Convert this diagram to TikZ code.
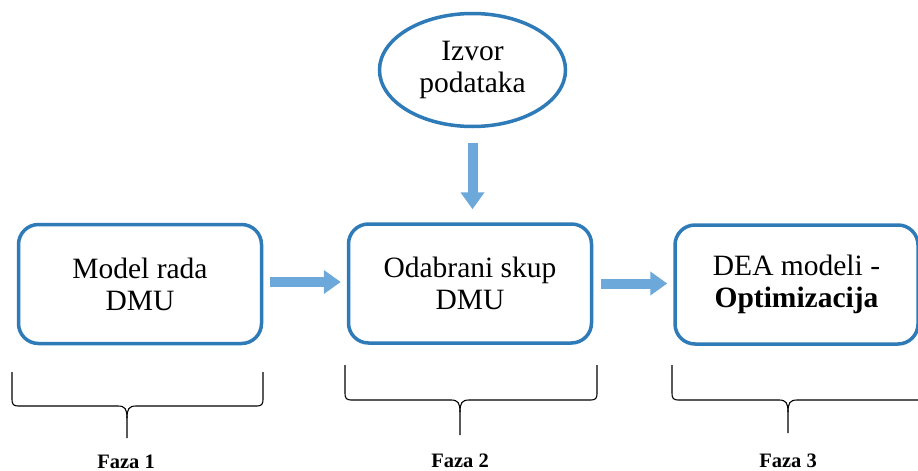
\documentclass[tikz,border=0pt]{standalone}
\usepackage{fontspec}
\setmainfont{Liberation Serif}
\usetikzlibrary{arrows.meta,shapes.geometric}

\definecolor{boxblue}{RGB}{46,123,184}
\definecolor{arrowblue}{RGB}{108,168,218}

\tikzset{
  stage/.style={draw=boxblue, line width=3.5pt, rounded corners=20pt,
    minimum width=243pt, minimum height=119pt, inner sep=0pt,
    align=center, font=\fontsize{29.5}{32}\selectfont},
  source/.style={ellipse, draw=boxblue, line width=3.5pt,
    minimum width=186pt, minimum height=113pt, inner sep=0pt,
    align=center, font=\fontsize{29.5}{32}\selectfont},
  flow/.style={draw=arrowblue, line width=10pt,
    -{Triangle[length=17pt,width=23pt]}},
  bracket/.style={draw=black, line width=1.1pt},
  phase/.style={font=\bfseries\fontsize{20.5}{22}\selectfont, anchor=base}
}

% curly bracket below a stage: left x, right x, top y, bar y, tip x, tip y
\newcommand\phasebracket[6]{%
  \draw[bracket] (#1,#3) -- (#1,#4-8) .. controls (#1,#4-1) and (#1+1,#4) .. (#1+8,#4)
    -- (#5-9,#4) .. controls (#5-2,#4) and (#5,#4+3) .. (#5,#4+12) -- (#5,#6);
  \draw[bracket] (#2,#3) -- (#2,#4-8) .. controls (#2,#4-1) and (#2-1,#4) .. (#2-8,#4)
    -- (#5+9,#4) .. controls (#5+2,#4) and (#5,#4+3) .. (#5,#4+12);
}

\begin{document}
\begin{tikzpicture}[x=1pt, y=-1pt]
  \useasboundingbox (0,0) rectangle (918,471);
  \clip (0,0) rectangle (918,471);

  % data source
  \node[source] (src) at (472.5,70) {Izvor\\podataka};

  % the three stages
  \node[stage] (m1) at (140,284) {Model rada\\DMU};
  \node[stage] (m2) at (470,283.5) {Odabrani skup\\DMU};
  \node[stage] (m3) at (796.5,284.5) {DEA modeli -\\\textbf{Optimizacija}};

  % flow arrows
  \draw[flow, shorten <=15pt, shorten >=13pt] (src.south) -- (src.south |- m2.north);
  \draw[flow, shorten <=7pt, shorten >=6pt] ([yshift=2pt]m1.east) -- ([yshift=2pt]m1.east -| m2.west);
  \draw[flow, shorten <=8pt, shorten >=6pt] ([yshift=0pt]m2.east) -- ([yshift=0pt]m2.east -| m3.west);

  % phase brackets
  \phasebracket{12}{263}{372}{406}{127}{438}
  \phasebracket{345}{597}{365}{400}{460}{435}
  \phasebracket{672}{935}{365}{400}{788}{433}

  % phase labels
  \node[phase] (f1) at (126,468) {Faza 1};
  \node[phase] (f2) at (460,467) {Faza 2};
  \node[phase] (f3) at (788,467) {Faza 3};
\end{tikzpicture}
\end{document}
